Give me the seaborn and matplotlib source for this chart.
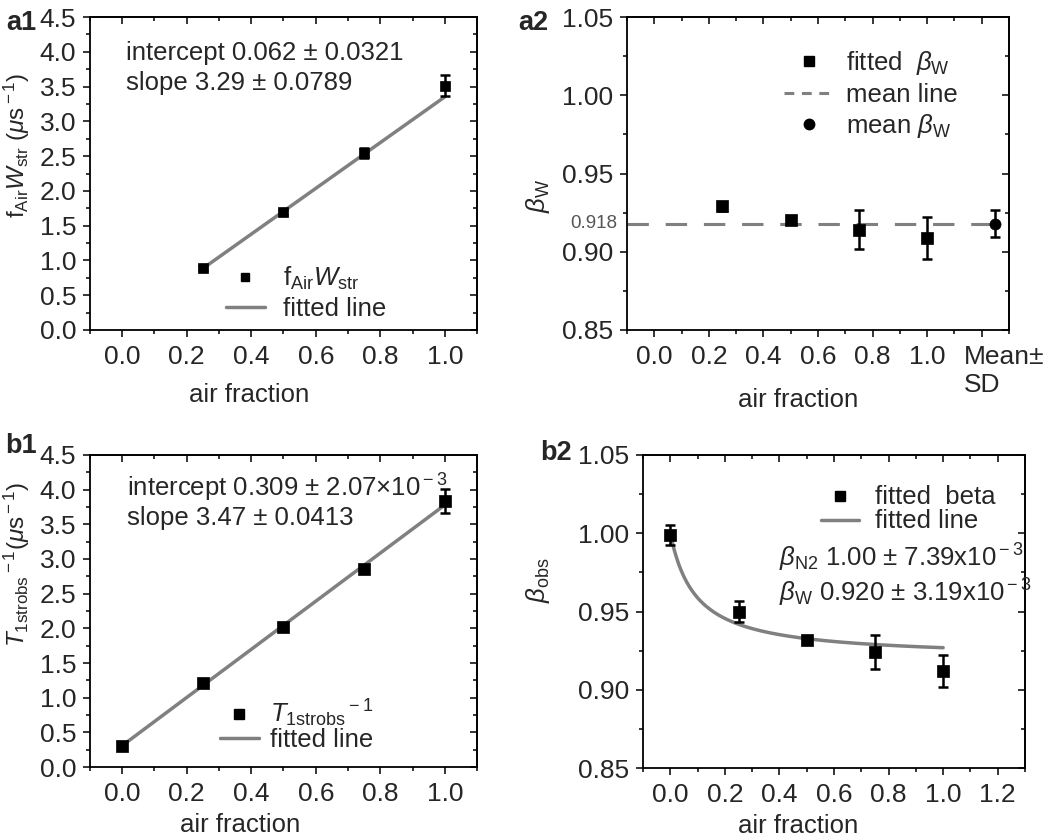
import numpy as np
import pandas as pd
import matplotlib
matplotlib.use("Agg")
import matplotlib.pyplot as plt
import matplotlib.transforms as mtransforms
import seaborn as sns
from matplotlib.lines import Line2D
from matplotlib.ticker import MultipleLocator, FixedLocator, FixedFormatter

# ---------------- data ----------------
# a1
a1_x = [0.25, 0.5, 0.75, 1.0]
a1_y = [0.89, 1.69, 2.55, 3.51]
a1_err = [0.03, 0.03, 0.07, 0.15]
a1_intercept, a1_slope = 0.062, 3.29

# a2
a2_x = [0.25, 0.5, 0.75, 1.0]
a2_y = [0.929, 0.920, 0.914, 0.909]
a2_err = [0.003, 0.002, 0.0125, 0.0135]
a2_mean_x = [1.25]
a2_mean = [0.918]
a2_sd = [0.0085]
a2_xticks = [0.0, 0.2, 0.4, 0.6, 0.8, 1.0, 1.2]
a2_xticklabels = ["0.0", "0.2", "0.4", "0.6", "0.8", "1.0", "Mean±\nSD"]

# b1
b1_x = [0.0, 0.25, 0.5, 0.75, 1.0]
b1_y = [0.30, 1.21, 2.02, 2.86, 3.84]
b1_err = [0.04, 0.04, 0.04, 0.05, 0.17]
b1_intercept, b1_slope = 0.309, 3.47

# b2
b2_x = [0.0, 0.25, 0.5, 0.75, 1.0]
b2_y = [0.999, 0.950, 0.932, 0.924, 0.912]
b2_err = [0.0065, 0.0065, 0.002, 0.011, 0.0105]
beta_N2, beta_W = 1.00, 0.920
rate_N2, rate_air = 0.309, 3.29

# ---------------- style ----------------
sns.set_theme(style="ticks")
plt.rcParams["font.family"] = ["Liberation Sans", "DejaVu Sans"]
plt.rcParams["mathtext.fontset"] = "custom"
plt.rcParams["mathtext.rm"] = "Liberation Sans"
plt.rcParams["mathtext.it"] = "Liberation Sans:italic"
plt.rcParams["mathtext.bf"] = "Liberation Sans:bold"
plt.rcParams["axes.linewidth"] = 1.3

FS = 18.5
TFS = 19
YFS = 17.5
GRAY = "#808080"

fig = plt.figure(figsize=(10.5, 8.39), dpi=100)
ax_a1 = fig.add_axes([0.0857, 0.6067, 0.4543 - 0.0857, 0.9797 - 0.6067])
ax_a2 = fig.add_axes([0.5971, 0.6067, 0.9610 - 0.5971, 0.9797 - 0.6067])
ax_b1 = fig.add_axes([0.0857, 0.0858, 0.4543 - 0.0857, 0.4577 - 0.0858])
ax_b2 = fig.add_axes([0.6124, 0.0846, 0.9762 - 0.6124, 0.4577 - 0.0846])


def style_axes(ax, xlim, ylim, xmaj, xmin, ymaj, ymin, yfmt):
    ax.set_xlim(*xlim)
    ax.set_ylim(*ylim)
    ax.xaxis.set_major_locator(MultipleLocator(xmaj))
    ax.xaxis.set_minor_locator(MultipleLocator(xmin))
    ax.yaxis.set_major_locator(MultipleLocator(ymaj))
    ax.yaxis.set_minor_locator(MultipleLocator(ymin))
    ax.yaxis.set_major_formatter(matplotlib.ticker.FormatStrFormatter(yfmt))
    ax.xaxis.set_major_formatter(matplotlib.ticker.FormatStrFormatter("%.1f"))
    ax.tick_params(which="both", direction="out", top=False, right=False,
                   labelsize=TFS, width=1.3)
    ax.tick_params(axis="x", pad=6)
    ax.tick_params(axis="y", pad=5)
    ax.tick_params(which="major", length=5)
    ax.tick_params(which="minor", length=3)
    for s in ax.spines.values():
        s.set_visible(True)
        s.set_linewidth(1.3)
        s.set_color("black")
    # inward ticks on top and right
    sx = ax.secondary_xaxis("top")
    sx.xaxis.set_major_locator(MultipleLocator(xmaj))
    sx.xaxis.set_minor_locator(MultipleLocator(xmin))
    sx.tick_params(which="both", direction="in", labeltop=False, width=1.3)
    sx.tick_params(which="major", length=5)
    sx.tick_params(which="minor", length=3)
    sy = ax.secondary_yaxis("right")
    sy.yaxis.set_major_locator(MultipleLocator(ymaj))
    sy.yaxis.set_minor_locator(MultipleLocator(ymin))
    sy.tick_params(which="both", direction="in", labelright=False, width=1.3)
    sy.tick_params(which="major", length=5)
    sy.tick_params(which="minor", length=3)


def err(ax, x, y, e, marker="s", ms=7.5):
    ax.errorbar(x, y, yerr=e, fmt="none", ecolor="black", elinewidth=1.8,
                capsize=3.8, capthick=1.8, zorder=4)
    sns.scatterplot(x=x, y=y, ax=ax, marker=marker, s=ms ** 2, color="black",
                    edgecolor="black", linewidth=0.5, zorder=5, legend=False)


# ---------------- a1 ----------------
style_axes(ax_a1, (-0.1, 1.1), (0, 4.5), 0.2, 0.1, 0.5, 0.25, "%.1f")
fx = np.array([a1_x[0], a1_x[-1]])
sns.lineplot(x=fx, y=a1_intercept + a1_slope * fx, ax=ax_a1, color=GRAY, lw=2.5, zorder=3)
err(ax_a1, a1_x, a1_y, a1_err, ms=6.5)
ax_a1.text(0.093, 0.885, "intercept 0.062 ± 0.0321", transform=ax_a1.transAxes,
           fontsize=FS, va="center", ha="left")
ax_a1.text(0.093, 0.789, "slope 3.29 ± 0.0789", transform=ax_a1.transAxes,
           fontsize=FS, va="center", ha="left")
h1 = [Line2D([], [], marker="s", ls="none", color="black", ms=6),
      Line2D([], [], color=GRAY, lw=2.5)]
ax_a1.legend(h1, [r"f$_{\rm Air}$$W_{\rm str}$", "fitted line"], loc="lower left",
             bbox_to_anchor=(0.305, -0.03), frameon=False, fontsize=FS,
             handlelength=1.5, handletextpad=0.7, borderpad=0.2, labelspacing=0.2)
ax_a1.set_xlabel("air fraction", fontsize=FS)
ax_a1.xaxis.set_label_coords(0.41, -0.17)
ax_a1.xaxis.label.set_va("top")
ax_a1.set_ylabel(r"f$_{\rm Air}$$W_{\rm str}$ ($\mu$s$^{\rm -1}$)", fontsize=YFS)
ax_a1.yaxis.set_label_coords(-0.15, 0.59)
fig.text(0.035, 0.972, "a1", fontsize=FS + 1, fontweight="bold", ha="right", va="center")

# ---------------- a2 ----------------
style_axes(ax_a2, (-0.1, 1.3), (0.85, 1.05), 0.2, 0.1, 0.05, 0.025, "%.2f")
ax_a2.xaxis.set_major_locator(FixedLocator(a2_xticks))
ax_a2.xaxis.set_major_formatter(FixedFormatter(a2_xticklabels))
fig.canvas.draw()
last = ax_a2.get_xticklabels()[-1]
last.set_horizontalalignment("left")
last.set_multialignment("left")
last.set_transform(last.get_transform() +
                   mtransforms.ScaledTranslation(-18 / 100, 0, fig.dpi_scale_trans))
ax_a2.axhline(a2_mean[0], color=GRAY, lw=2.2, ls=(0, (7, 5.5)), zorder=2)
err(ax_a2, a2_x, a2_y, a2_err, ms=8)
err(ax_a2, a2_mean_x, a2_mean, a2_sd, marker="o", ms=8)
ax_a2.text(-0.025, a2_mean[0], "0.918", transform=ax_a2.get_yaxis_transform(),
           fontsize=13.5, color="#555555", ha="right", va="center")
h2 = [Line2D([], [], marker="s", ls="none", color="black", ms=7.5),
      Line2D([], [], color=GRAY, lw=2.2, ls=(0, (3.2, 2.5))),
      Line2D([], [], marker="o", ls="none", color="black", ms=7.5)]
ax_a2.legend(h2, [r"fitted  $\beta_{\rm W}$", "mean line", r"mean $\beta_{\rm W}$"],
             loc="upper left", bbox_to_anchor=(0.365, 0.955), frameon=False,
             fontsize=FS, handlelength=1.9, handletextpad=0.5, borderpad=0.2,
             labelspacing=0.22)
ax_a2.set_xlabel("air fraction", fontsize=FS)
ax_a2.xaxis.set_label_coords(0.448, -0.185)
ax_a2.xaxis.label.set_va("top")
ax_a2.set_ylabel(r"$\beta_{\rm W}$", fontsize=FS)
ax_a2.yaxis.set_label_coords(-0.196, 0.43)
fig.text(0.522, 0.972, "a2", fontsize=FS + 1, fontweight="bold", ha="right", va="center")

# ---------------- b1 ----------------
style_axes(ax_b1, (-0.1, 1.1), (0, 4.5), 0.2, 0.1, 0.5, 0.25, "%.1f")
fx = np.array([b1_x[0], b1_x[-1]])
sns.lineplot(x=fx, y=b1_intercept + b1_slope * fx, ax=ax_b1, color=GRAY, lw=2.5, zorder=3)
err(ax_b1, b1_x, b1_y, b1_err, ms=8)
ax_b1.text(0.096, 0.894, r"intercept 0.309 ± 2.07×10$^{\rm -3}$", transform=ax_b1.transAxes,
           fontsize=FS, va="center", ha="left")
ax_b1.text(0.096, 0.798, "slope 3.47 ± 0.0413", transform=ax_b1.transAxes,
           fontsize=FS, va="center", ha="left")
h3 = [Line2D([], [], marker="s", ls="none", color="black", ms=7.5),
      Line2D([], [], color=GRAY, lw=2.5)]
ax_b1.legend(h3, [r"${T_{\rm 1strobs}}^{\rm -1}$", "fitted line"], loc="lower left",
             bbox_to_anchor=(0.29, -0.01), frameon=False, fontsize=FS,
             handlelength=1.5, handletextpad=0.45, borderpad=0.2, labelspacing=-0.05)
ax_b1.set_xlabel("air fraction", fontsize=FS)
ax_b1.xaxis.set_label_coords(0.388, -0.148)
ax_b1.xaxis.label.set_va("top")
ax_b1.set_ylabel(r"${T_{\rm 1strobs}}^{\rm -1}$($\mu$s$^{\rm -1}$)", fontsize=YFS)
ax_b1.yaxis.set_label_coords(-0.15, 0.65)
fig.text(0.035, 0.468, "b1", fontsize=FS + 1, fontweight="bold", ha="right", va="center")

# ---------------- b2 ----------------
style_axes(ax_b2, (-0.1, 1.3), (0.85, 1.05), 0.2, 0.1, 0.05, 0.025, "%.2f")
fc = np.linspace(0.0, 1.0, 200)
curve = (rate_N2 * beta_N2 + rate_air * fc * beta_W) / (rate_N2 + rate_air * fc)
sns.lineplot(x=fc, y=curve, ax=ax_b2, color=GRAY, lw=2.5, zorder=3)
err(ax_b2, b2_x, b2_y, b2_err, ms=8)
ax_b2.text(0.355, 0.645, r"$\beta_{\rm N2}$ 1.00 ± 7.39x10$^{\rm -3}$", transform=ax_b2.transAxes,
           fontsize=FS, va="baseline", ha="left")
ax_b2.text(0.355, 0.532, r"$\beta_{\rm W}$ 0.920 ± 3.19x10$^{\rm -3}$", transform=ax_b2.transAxes,
           fontsize=FS, va="baseline", ha="left")
h4 = [Line2D([], [], marker="s", ls="none", color="black", ms=7.5),
      Line2D([], [], color=GRAY, lw=2.5)]
ax_b2.legend(h4, ["fitted  beta", "fitted line"], loc="upper left",
             bbox_to_anchor=(0.418, 0.96), frameon=False, fontsize=FS,
             handlelength=1.5, handletextpad=0.6, borderpad=0.2, labelspacing=0.0)
ax_b2.set_xlabel("air fraction", fontsize=FS)
ax_b2.xaxis.set_label_coords(0.405, -0.148)
ax_b2.xaxis.label.set_va("top")
ax_b2.set_ylabel(r"$\beta_{\rm obs}$", fontsize=FS)
ax_b2.yaxis.set_label_coords(-0.238, 0.60)
fig.text(0.545, 0.46, "b2", fontsize=FS + 1, fontweight="bold", ha="right", va="center")

fig.savefig("out.png", dpi=100, facecolor="white")
